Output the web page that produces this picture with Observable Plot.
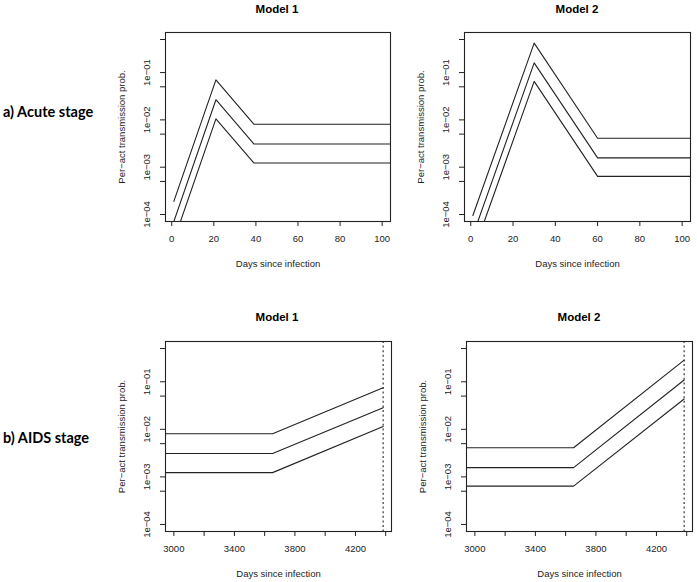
<!DOCTYPE html>
<html>
<head>
<meta charset="utf-8">
<script src="https://cdn.jsdelivr.net/npm/d3@7"></script>
<script src="https://cdn.jsdelivr.net/npm/@observablehq/plot@0.6"></script>
<style>
  html, body { margin: 0; padding: 0; background: #fff; }
  #wrap { position: relative; width: 697px; height: 582px; background: #fff; overflow: hidden; }
  .panel { position: absolute; }
  .title { position: absolute; font-family: "Liberation Sans", Arial, sans-serif; font-weight: bold; font-size: 11.5px; transform: translate(-50%, -50%); white-space: nowrap; }
  .row { position: absolute; font-family: Lato, "Open Sans", sans-serif; font-weight: bold; font-size: 14.5px; transform: translateY(-50%); white-space: nowrap; }
</style>
</head>
<body>
<div id="wrap"></div>
<script>
// ---- data ----
const rowLabels = ["a) Acute stage", "b) AIDS stage"];
const modelTitles = ["Model 1", "Model 2"];
const xLabel = "Days since infection";
const yLabel = "Per\u2212act transmission prob.";

const yTicks = [1e-4, 5e-4, 1e-3, 5e-3, 1e-2, 5e-2, 1e-1, 5e-1];
const acuteXTicks = [0, 20, 40, 60, 80, 100];
const aidsXTicks = [3000, 3200, 3400, 3600, 3800, 4000, 4200, 4400];

// Acute stage, model 1
const acuteM1Days  = [1, 21, 39, 110];
const acuteM1Upper = [1.9e-4, 0.070, 0.0081, 0.0081];
const acuteM1Mid   = [7.1e-5, 0.0267, 0.0031, 0.0031];
const acuteM1Lower = [2.8e-5, 0.0105, 0.00123, 0.00123];

// Acute stage, model 2
const acuteM2Days  = [1, 30, 60, 110];
const acuteM2Upper = [9.5e-5, 0.42, 0.0041, 0.0041];
const acuteM2Mid   = [3.6e-5, 0.16, 0.00157, 0.00157];
const acuteM2Lower = [1.5e-5, 0.065, 0.00064, 0.00064];

// AIDS stage, model 1
const aidsM1Days  = [2900, 3652.5, 4383];
const aidsM1Upper = [0.0081, 0.0081, 0.075];
const aidsM1Mid   = [0.0031, 0.0031, 0.0286];
const aidsM1Lower = [0.00123, 0.00123, 0.0115];

// AIDS stage, model 2
const aidsM2Days  = [2900, 3652.5, 4383];
const aidsM2Upper = [0.0041, 0.0041, 0.285];
const aidsM2Mid   = [0.00157, 0.00157, 0.109];
const aidsM2Lower = [0.00064, 0.00064, 0.0435];

const deathDay = [4383];

// ---- helpers ----
function toRows(days, series) {
  const rows = [];
  series.forEach(([name, vals]) => days.forEach((d, i) => rows.push({day: d, p: vals[i], s: name})));
  return rows;
}
const yFmt = d => {
  const e = Math.round(Math.log10(d));
  return Math.abs(Math.log10(d) - e) < 1e-6 ? "1e\u2212" + String(-e).padStart(2, "0") : "";
};

const wrap = document.getElementById("wrap");
const ML = 65, MR = 5, MT = 10, MB = 55;

function panel({frame, xDomain, xTicks, xFmt, days, upper, mid, lower, dashed}) {
  const [fl, ft, fr, fb] = frame;
  const W = ML + (fr - fl) + MR, H = MT + (fb - ft) + MB;
  const rows = toRows(days, [["upper", upper], ["mid", mid], ["lower", lower]]);
  const marks = [
    Plot.line(rows, {x: "day", y: "p", z: "s", stroke: "#222", strokeWidth: 1.1, clip: true}),
  ];
  if (dashed) marks.push(Plot.ruleX(dashed, {stroke: "#222", strokeWidth: 1.1, strokeDasharray: "2,2.6"}));
  marks.push(Plot.frame({stroke: "#222", strokeWidth: 1.1}));
  marks.push(Plot.axisX({ticks: xTicks, tickFormat: xFmt, tickSize: 5, tickPadding: 9, fontSize: 9.5,
    label: xLabel, labelAnchor: "center", labelOffset: 45, labelArrow: "none"}));
  marks.push(Plot.axisY({ticks: yTicks, tickFormat: yFmt, tickSize: 5, tickPadding: 11, tickRotate: -90, fontSize: 9.5,
    label: yLabel, labelAnchor: "center", labelOffset: 47, labelArrow: "none"}));
  const svg = Plot.plot({
    width: W, height: H,
    marginLeft: ML, marginRight: MR, marginTop: MT, marginBottom: MB,
    style: {fontFamily: "'Liberation Sans', Arial, sans-serif", fontSize: "10px", color: "#222", background: "white", overflow: "visible"},
    x: {domain: xDomain},
    y: {type: "log", domain: [Math.pow(10, -4.148), Math.pow(10, -0.153)]},
    marks
  });
  svg.classList.add("panel");
  svg.style.left = (fl - ML) + "px";
  svg.style.top = (ft - MT) + "px";
  wrap.appendChild(svg);
}

const acuteDomain = [-2.96, 103.96];
const aidsDomain = [2944.7, 4438.3];
const aidsFmt = d => ((d - 3000) % 400 === 0 ? String(d) : "");

panel({frame: [165, 32, 390, 221], xDomain: acuteDomain, xTicks: acuteXTicks, xFmt: d => String(d),
  days: acuteM1Days, upper: acuteM1Upper, mid: acuteM1Mid, lower: acuteM1Lower});
panel({frame: [464, 32, 690, 221], xDomain: acuteDomain, xTicks: acuteXTicks, xFmt: d => String(d),
  days: acuteM2Days, upper: acuteM2Upper, mid: acuteM2Mid, lower: acuteM2Lower});
panel({frame: [165, 341, 391, 531], xDomain: aidsDomain, xTicks: aidsXTicks, xFmt: aidsFmt,
  days: aidsM1Days, upper: aidsM1Upper, mid: aidsM1Mid, lower: aidsM1Lower, dashed: deathDay});
panel({frame: [466, 341, 692, 531], xDomain: aidsDomain, xTicks: aidsXTicks, xFmt: aidsFmt,
  days: aidsM2Days, upper: aidsM2Upper, mid: aidsM2Mid, lower: aidsM2Lower, dashed: deathDay});

// titles and row labels
const texts = [
  {cls: "title", t: modelTitles[0], x: 277, y: 9},
  {cls: "title", t: modelTitles[1], x: 577, y: 9},
  {cls: "title", t: modelTitles[0], x: 277, y: 317},
  {cls: "title", t: modelTitles[1], x: 579, y: 317},
  {cls: "row", t: rowLabels[0], x: 3, y: 111},
  {cls: "row", t: rowLabels[1], x: 3, y: 437},
];
texts.forEach(({cls, t, x, y}) => {
  const d = document.createElement("div");
  d.className = cls; d.textContent = t;
  d.style.left = x + "px"; d.style.top = y + "px";
  wrap.appendChild(d);
});
</script>
</body>
</html>
